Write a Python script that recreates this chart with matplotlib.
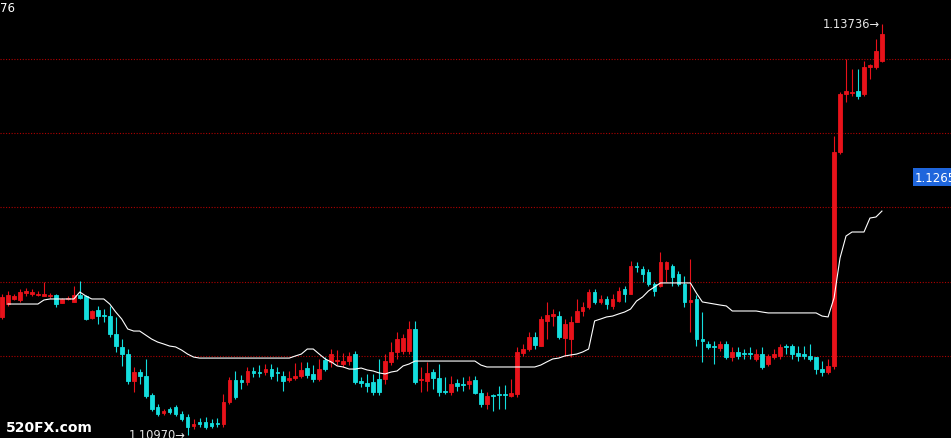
import matplotlib
matplotlib.use('Agg')
import matplotlib.pyplot as plt
import matplotlib.transforms as mtransforms
import numpy as np

# OHLC prices, one candle per bar, left to right
opens = [
    1.11763, 1.11850, 1.11884, 1.11877, 1.11924, 1.11918, 1.11911, 1.11904, 1.11904, 1.11911,
    1.11857, 1.11884, 1.11864, 1.11911, 1.11904, 1.11756, 1.11810, 1.11776, 1.11769, 1.11648,
    1.11561, 1.11513, 1.11332, 1.11392, 1.11365, 1.11237, 1.11157, 1.11116, 1.11143, 1.11157,
    1.11109, 1.11089, 1.11029, 1.11056, 1.11056, 1.11049, 1.11049, 1.11042, 1.11190, 1.11338,
    1.11338, 1.11325, 1.11399, 1.11392, 1.11392, 1.11412, 1.11392, 1.11365, 1.11338, 1.11352,
    1.11365, 1.11419, 1.11379, 1.11345, 1.11473, 1.11460, 1.11466, 1.11446, 1.11466, 1.11513,
    1.11332, 1.11318, 1.11325, 1.11345, 1.11345, 1.11460, 1.11527, 1.11534, 1.11534, 1.11682,
    1.11338, 1.11332, 1.11392, 1.11352, 1.11264, 1.11258, 1.11318, 1.11311, 1.11311, 1.11338,
    1.11251, 1.11177, 1.11237, 1.11244, 1.11244, 1.11231, 1.11244, 1.11520, 1.11547, 1.11628,
    1.11567, 1.11736, 1.11769, 1.11769, 1.11621, 1.11614, 1.11729, 1.11803, 1.11830, 1.11931,
    1.11864, 1.11884, 1.11837, 1.11870, 1.11951, 1.11918, 1.12106, 1.12086, 1.12066, 1.11985,
    1.11971, 1.12086, 1.12106, 1.12052, 1.11985, 1.11864, 1.11884, 1.11614, 1.11581, 1.11567,
    1.11554, 1.11581, 1.11493, 1.11527, 1.11520, 1.11520, 1.11480, 1.11513, 1.11446, 1.11493,
    1.11500, 1.11567, 1.11567, 1.11520, 1.11513, 1.11500, 1.11493, 1.11412, 1.11392, 1.11433,
    1.12874, 1.13264, 1.13271, 1.13285, 1.13264, 1.13446, 1.13446, 1.13487,
]
highs = [
    1.11918, 1.11938, 1.11918, 1.11951, 1.11958, 1.11951, 1.11938, 1.11998, 1.11924, 1.11918,
    1.11891, 1.11904, 1.11971, 1.12005, 1.11911, 1.11810, 1.11837, 1.11816, 1.11837, 1.11763,
    1.11614, 1.11547, 1.11426, 1.11412, 1.11480, 1.11251, 1.11177, 1.11143, 1.11157, 1.11170,
    1.11130, 1.11109, 1.11076, 1.11082, 1.11089, 1.11076, 1.11082, 1.11244, 1.11359, 1.11399,
    1.11372, 1.11426, 1.11426, 1.11439, 1.11446, 1.11446, 1.11426, 1.11399, 1.11399, 1.11453,
    1.11460, 1.11460, 1.11439, 1.11480, 1.11493, 1.11547, 1.11540, 1.11520, 1.11527, 1.11534,
    1.11359, 1.11379, 1.11379, 1.11480, 1.11513, 1.11594, 1.11662, 1.11648, 1.11736, 1.11736,
    1.11426, 1.11460, 1.11412, 1.11446, 1.11359, 1.11365, 1.11345, 1.11359, 1.11365, 1.11365,
    1.11278, 1.11258, 1.11244, 1.11298, 1.11305, 1.11345, 1.11561, 1.11581, 1.11662, 1.11662,
    1.11769, 1.11864, 1.11816, 1.11803, 1.11749, 1.11769, 1.11884, 1.11864, 1.11951, 1.11951,
    1.11911, 1.11904, 1.11918, 1.11965, 1.11971, 1.12140, 1.12133, 1.12106, 1.12086, 1.11998,
    1.12200, 1.12140, 1.12120, 1.12072, 1.12039, 1.12153, 1.11911, 1.11796, 1.11601, 1.11601,
    1.11601, 1.11601, 1.11561, 1.11561, 1.11547, 1.11561, 1.11547, 1.11561, 1.11513, 1.11547,
    1.11581, 1.11581, 1.11581, 1.11567, 1.11567, 1.11581, 1.11493, 1.11466, 1.11480, 1.12981,
    1.13278, 1.13500, 1.13433, 1.13433, 1.13487, 1.13466, 1.13635, 1.13736,
]
lows = [
    1.11749, 1.11837, 1.11877, 1.11864, 1.11904, 1.11904, 1.11904, 1.11904, 1.11891, 1.11830,
    1.11857, 1.11877, 1.11864, 1.11884, 1.11742, 1.11749, 1.11715, 1.11729, 1.11628, 1.11527,
    1.11433, 1.11311, 1.11258, 1.11311, 1.11217, 1.11130, 1.11096, 1.11103, 1.11109, 1.11096,
    1.11062, 1.10970, 1.11008, 1.11022, 1.11008, 1.11015, 1.11022, 1.11022, 1.11177, 1.11210,
    1.11278, 1.11305, 1.11359, 1.11359, 1.11372, 1.11345, 1.11332, 1.11264, 1.11325, 1.11338,
    1.11352, 1.11352, 1.11325, 1.11332, 1.11399, 1.11426, 1.11439, 1.11426, 1.11439, 1.11311,
    1.11291, 1.11258, 1.11237, 1.11237, 1.11311, 1.11439, 1.11480, 1.11513, 1.11513, 1.11311,
    1.11258, 1.11264, 1.11278, 1.11231, 1.11244, 1.11237, 1.11264, 1.11264, 1.11278, 1.11244,
    1.11157, 1.11143, 1.11130, 1.11143, 1.11143, 1.11224, 1.11224, 1.11500, 1.11534, 1.11547,
    1.11567, 1.11614, 1.11702, 1.11614, 1.11500, 1.11493, 1.11729, 1.11769, 1.11816, 1.11850,
    1.11850, 1.11816, 1.11816, 1.11864, 1.11864, 1.11918, 1.12066, 1.11998, 1.11971, 1.11904,
    1.11965, 1.11998, 1.11971, 1.11971, 1.11830, 1.11662, 1.11567, 1.11460, 1.11547, 1.11446,
    1.11534, 1.11480, 1.11466, 1.11480, 1.11480, 1.11480, 1.11466, 1.11412, 1.11433, 1.11480,
    1.11480, 1.11513, 1.11480, 1.11466, 1.11480, 1.11466, 1.11379, 1.11365, 1.11379, 1.11412,
    1.12860, 1.13210, 1.13251, 1.13231, 1.13251, 1.13365, 1.13433, 1.13480,
]
closes = [
    1.11897, 1.11911, 1.11904, 1.11931, 1.11938, 1.11931, 1.11918, 1.11918, 1.11911, 1.11850,
    1.11884, 1.11891, 1.11911, 1.11891, 1.11749, 1.11803, 1.11769, 1.11769, 1.11648, 1.11567,
    1.11513, 1.11332, 1.11392, 1.11365, 1.11231, 1.11143, 1.11109, 1.11130, 1.11123, 1.11109,
    1.11076, 1.11022, 1.11042, 1.11042, 1.11022, 1.11029, 1.11042, 1.11190, 1.11338, 1.11224,
    1.11325, 1.11399, 1.11386, 1.11386, 1.11412, 1.11365, 1.11386, 1.11332, 1.11352, 1.11365,
    1.11406, 1.11372, 1.11345, 1.11412, 1.11412, 1.11513, 1.11473, 1.11466, 1.11500, 1.11325,
    1.11318, 1.11298, 1.11258, 1.11258, 1.11466, 1.11527, 1.11614, 1.11621, 1.11682, 1.11325,
    1.11345, 1.11386, 1.11352, 1.11258, 1.11258, 1.11311, 1.11298, 1.11305, 1.11332, 1.11251,
    1.11177, 1.11231, 1.11231, 1.11237, 1.11237, 1.11251, 1.11527, 1.11547, 1.11628, 1.11574,
    1.11749, 1.11776, 1.11783, 1.11628, 1.11715, 1.11729, 1.11803, 1.11830, 1.11931, 1.11864,
    1.11884, 1.11850, 1.11884, 1.11938, 1.11918, 1.12106, 1.12099, 1.12052, 1.11985, 1.11938,
    1.12133, 1.12133, 1.12032, 1.11985, 1.11864, 1.11877, 1.11614, 1.11601, 1.11561, 1.11561,
    1.11581, 1.11493, 1.11527, 1.11500, 1.11513, 1.11513, 1.11513, 1.11426, 1.11500, 1.11513,
    1.11561, 1.11561, 1.11513, 1.11500, 1.11500, 1.11480, 1.11412, 1.11392, 1.11433, 1.12874,
    1.13264, 1.13285, 1.13278, 1.13251, 1.13446, 1.13460, 1.13554, 1.13668,
]
# white indicator line (one value per candle, first one not drawn)
white_line = [
    np.nan, 1.11850, 1.11850, 1.11850, 1.11850, 1.11850, 1.11850, 1.11877, 1.11884, 1.11884,
    1.11884, 1.11884, 1.11884, 1.11931, 1.11904, 1.11884, 1.11884, 1.11884, 1.11850, 1.11796,
    1.11749, 1.11682, 1.11668, 1.11668, 1.11641, 1.11614, 1.11594, 1.11581, 1.11567, 1.11561,
    1.11540, 1.11513, 1.11493, 1.11486, 1.11486, 1.11486, 1.11486, 1.11486, 1.11486, 1.11486,
    1.11486, 1.11486, 1.11486, 1.11486, 1.11486, 1.11486, 1.11486, 1.11486, 1.11486, 1.11500,
    1.11513, 1.11547, 1.11547, 1.11513, 1.11480, 1.11460, 1.11433, 1.11426, 1.11412, 1.11412,
    1.11419, 1.11406, 1.11399, 1.11386, 1.11379, 1.11392, 1.11399, 1.11433, 1.11446, 1.11466,
    1.11466, 1.11466, 1.11466, 1.11466, 1.11466, 1.11466, 1.11466, 1.11466, 1.11466, 1.11466,
    1.11439, 1.11426, 1.11426, 1.11426, 1.11426, 1.11426, 1.11426, 1.11426, 1.11426, 1.11426,
    1.11439, 1.11460, 1.11480, 1.11486, 1.11500, 1.11507, 1.11513, 1.11527, 1.11547, 1.11736,
    1.11749, 1.11763, 1.11769, 1.11783, 1.11796, 1.11816, 1.11870, 1.11897, 1.11938, 1.11965,
    1.11992, 1.11992, 1.11992, 1.11992, 1.11992, 1.11992, 1.11924, 1.11864, 1.11857, 1.11850,
    1.11843, 1.11837, 1.11803, 1.11803, 1.11803, 1.11803, 1.11803, 1.11796, 1.11790, 1.11790,
    1.11790, 1.11790, 1.11790, 1.11790, 1.11790, 1.11790, 1.11790, 1.11769, 1.11763, 1.11891,
    1.12160, 1.12308, 1.12335, 1.12335, 1.12335, 1.12429, 1.12436, 1.12476,
]
grid_levels = [1.1350, 1.1300, 1.1250, 1.1200, 1.1150]
high_price, high_idx = 1.13736, 147
low_price, low_idx = 1.10970, 31
tag_text, tag_price = '1.1265', 1.12705


def main():
    fig = plt.figure(figsize=(9.51, 4.39), dpi=100, facecolor='black')
    ax = fig.add_axes([0, 0, 1, 1])
    ax.set_facecolor('black')

    o = np.array(opens)
    h = np.array(highs)
    l = np.array(lows)
    c = np.array(closes)
    x = np.arange(len(o))
    up = c >= o
    colors = np.where(up, '#e8121a', '#14dede')

    # grid
    for g in grid_levels:
        ax.axhline(g, color='#b00000', lw=0.8, ls=(0, (1, 1.5)), zorder=1)

    # candles
    ax.vlines(x, l, h, colors=colors, linewidth=0.8, zorder=2)
    ax.bar(x, np.abs(c - o), bottom=np.minimum(o, c), width=0.62,
           color=colors, edgecolor=colors, linewidth=0.6, zorder=3)

    ax.plot(x, white_line, color='white', lw=0.8, zorder=4)

    spacing = 5.986  # pixels between candles
    xmin = -2 / spacing
    ax.set_xlim(xmin, xmin + 951 / spacing)
    ax.set_ylim(1.109478, 1.139040)
    ax.axis('off')

    ax.text(high_idx - 0.4, high_price, '1.13736\u2192', ha='right', va='center',
            color='#e6e6e6', fontsize=8.3, zorder=5)
    ax.text(low_idx - 0.4, low_price, '1.10970\u2192', ha='right', va='center',
            color='#e6e6e6', fontsize=8.3, zorder=5)

    # price tag at the right edge (cut by the edge, as in the source)
    trans = mtransforms.blended_transform_factory(ax.transAxes, ax.transData)
    ax.text(915 / 951, tag_price, tag_text, transform=trans, ha='left', va='center',
            color='white', fontsize=8.5, zorder=6,
            bbox=dict(boxstyle='square,pad=0.2', facecolor='#1f66dc', edgecolor='none'))

    fig.text(0.0, 1 - 9 / 439, '76', color='white', fontsize=8.5, va='center', ha='left')
    fig.text(6 / 951, 1 - 428 / 439, '520FX.com', color='white', fontsize=10,
             fontweight='bold', va='center', ha='left')

    fig.savefig('out.png', dpi=100, facecolor='black')


if __name__ == "__main__":
    main()
